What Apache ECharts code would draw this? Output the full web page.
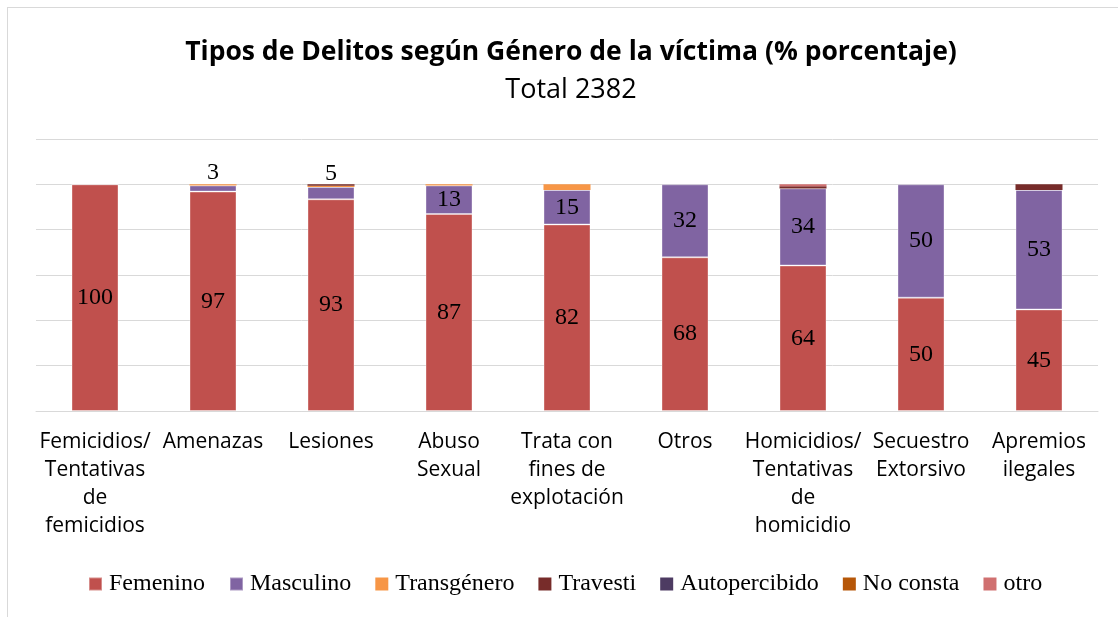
<!DOCTYPE html>
<html>
<head>
<meta charset="utf-8">
<script src="https://cdn.jsdelivr.net/npm/echarts@6/dist/echarts.min.js"></script>
<style>
  html, body { margin: 0; padding: 0; background: #fff; }
  #frame { position: absolute; left: 7px; top: 7px; width: 1120px; height: 620px; border: 1px solid #D9D9D9; box-sizing: border-box; }
  #chart { position: absolute; left: 0; top: 0; width: 1118px; height: 617px; }
</style>
</head>
<body>
<div id="frame"></div>
<div id="chart"></div>
<script>
var categories = ['Femicidios/\nTentativas\nde\nfemicidios', 'Amenazas', 'Lesiones', 'Abuso\nSexual',
  'Trata con\nfines de\nexplotación', 'Otros', 'Homicidios/\nTentativas\nde\nhomicidio', 'Secuestro\nExtorsivo', 'Apremios\nilegales'];

var femenino      = [100, 96.8, 93.4, 86.9, 82.3, 67.8, 64.2, 50, 44.8];
var masculino     = [0, 2.7, 5.4, 12.6, 15.2, 32.2, 34.0, 50, 52.7];
var transgenero   = [0, 0.5, 0.6, 0.5, 2.5, 0, 0, 0, 0];
var travesti      = [0, 0, 0.6, 0, 0, 0, 0.9, 0, 2.5];
var autopercibido = [0, 0, 0, 0, 0, 0, 0, 0, 0];
var noConsta      = [0, 0, 0, 0, 0, 0, 0, 0, 0];
var otro          = [0, 0, 0, 0, 0, 0, 0.9, 0, 0];

// masculino labels of these categories sit above the bar
var masculinoAbove = [1, 2];

var serif = '"Liberation Serif", "DejaVu Serif", serif';
var sans = '"Open Sans", sans-serif';

function mkSeries(name, data, color, labelled, above) {
  above = above || [];
  return {
    name: name,
    type: 'bar',
    stack: 'total',
    barWidth: 47,
    itemStyle: labelled
      ? { color: color, borderColor: 'rgba(255,255,255,0.35)', borderWidth: 1 }
      : { color: color },
    label: {
      show: labelled,
      position: 'inside',
      color: '#000',
      fontFamily: serif,
      fontSize: 24,
      formatter: function (p) { return p.value > 0 ? Math.round(p.value) : ''; }
    },
    data: data.map(function (v, i) {
      if (above.indexOf(i) >= 0) {
        return { value: v, label: { position: 'top', distance: 1 } };
      }
      return v;
    })
  };
}

var chart = echarts.init(document.getElementById('chart'));
chart.setOption({
  animation: false,
  title: {
    text: 'Tipos de Delitos según Género de la víctima (% porcentaje)',
    subtext: 'Total 2382',
    left: 566,
    textAlign: 'center',
    top: 34,
    itemGap: 11,
    textStyle: { fontFamily: sans, fontWeight: 'bold', fontSize: 26.5, color: '#000' },
    subtextStyle: { fontFamily: sans, fontSize: 27, color: '#000' }
  },
  legend: {
    bottom: 16,
    left: 83,
    itemWidth: 13,
    itemHeight: 13,
    itemGap: 24,
    icon: 'rect',
    textStyle: { fontFamily: serif, fontSize: 24, color: '#000', padding: [0, 0, 0, 2] },
    data: ['Femenino', 'Masculino', 'Transgénero', 'Travesti', 'Autopercibido', 'No consta', 'otro']
  },
  grid: { left: 36, right: 20, top: 139, bottom: 206, containLabel: false },
  xAxis: {
    type: 'category',
    data: categories,
    axisLine: { lineStyle: { color: '#D9D9D9', width: 1 } },
    axisTick: { show: false },
    axisLabel: { interval: 0, fontFamily: sans, fontSize: 21, color: '#000', lineHeight: 28, margin: 17 }
  },
  yAxis: {
    type: 'value',
    min: 0,
    max: 120,
    interval: 20,
    axisLabel: { show: false },
    axisLine: { show: false },
    axisTick: { show: false },
    splitLine: { lineStyle: { color: '#D9D9D9', width: 1 } }
  },
  series: [
    mkSeries('Femenino', femenino, '#C0504D', true),
    mkSeries('Masculino', masculino, '#8064A2', true, masculinoAbove),
    mkSeries('Transgénero', transgenero, '#F79646', false),
    mkSeries('Travesti', travesti, '#772C2A', false),
    mkSeries('Autopercibido', autopercibido, '#4D3B62', false),
    mkSeries('No consta', noConsta, '#B65708', false),
    mkSeries('otro', otro, '#D07070', false)
  ]
});
</script>
</body>
</html>
